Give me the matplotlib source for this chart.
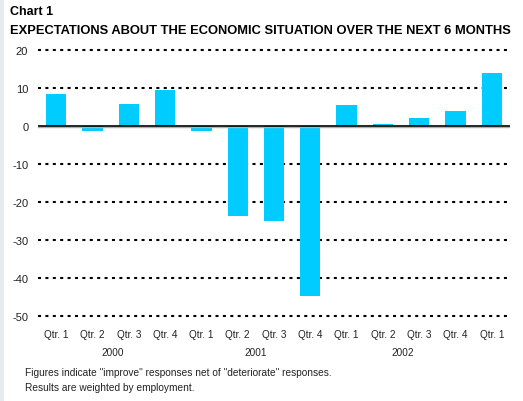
import matplotlib
matplotlib.use("Agg")
import matplotlib.pyplot as plt
import matplotlib.transforms as mtransforms
from matplotlib.patches import Rectangle

plt.rcParams['font.family'] = ['Liberation Sans', 'DejaVu Sans']

quarters = ["Qtr. 1", "Qtr. 2", "Qtr. 3", "Qtr. 4",
            "Qtr. 1", "Qtr. 2", "Qtr. 3", "Qtr. 4",
            "Qtr. 1", "Qtr. 2", "Qtr. 3", "Qtr. 4", "Qtr. 1"]
values = [8.5, -1.4, 5.9, 9.6, -1.4, -23.6, -24.9, -44.7, 5.6, 0.6, 2.2, 4.0, 14.1]
years = ["2000", "2001", "2002"]
year_pos = [1.55, 5.5, 9.55]
yticks = [20, 10, 0, -10, -20, -30, -40, -50]

W, H = 523, 402
fig = plt.figure(figsize=(W / 100, H / 100), dpi=100)
fig.patches.append(Rectangle((0, 0), 4 / W, 1, transform=fig.transFigure,
                             facecolor="#e6eaf1", edgecolor="none", zorder=0))

def figy(px):
    return 1 - px / H

left, right = 38 / W, 510 / W
top_px, bot_px = 51.3, 316.7
ax = fig.add_axes([left, 1 - bot_px / H, right - left, (bot_px - top_px) / H])
ax.set_xlim(-0.5, len(values) - 0.5)
ax.set_ylim(-50, 20)
ax.patch.set_alpha(0)
for s in ax.spines.values():
    s.set_visible(False)

for y in yticks:
    if y == 0:
        continue
    ax.axhline(y, color="black", lw=1.5, linestyle=(0, (1.45, 2.1)),
               dash_capstyle="butt", clip_on=False, zorder=1)

ax.bar(range(len(values)), values, width=0.56, color="#00ccff", zorder=2)
ax.axhline(-0.3, color="#b0b0b0", lw=1.0, zorder=3)
ax.axhline(0, color="black", lw=1.2, zorder=4)

ax.set_yticks(yticks)
ax.set_yticklabels([str(v) for v in yticks], fontsize=8, color="#222222")
ax.tick_params(axis="y", length=0, pad=7)
ax.set_xticks(range(len(values)))
ax.set_xticklabels(quarters, fontsize=7.2, color="#222222")
ax.tick_params(axis="x", length=0, pad=9.5)

blend = mtransforms.blended_transform_factory(ax.transData, fig.transFigure)
for yr, xp in zip(years, year_pos):
    ax.text(xp, figy(353), yr, transform=blend, fontsize=7.2,
            ha="center", va="center", color="#222222")

fig.text(10 / W, figy(12), "Chart 1", fontsize=9, fontweight="bold", va="center", ha="left")
fig.text(10 / W, figy(30.5), "EXPECTATIONS ABOUT THE ECONOMIC SITUATION OVER THE NEXT 6 MONTHS",
         fontsize=9.25, fontweight="bold", va="center", ha="left")
fig.text(25 / W, figy(373), 'Figures indicate "improve" responses net of "deteriorate" responses.',
         fontsize=7.3, va="center", ha="left", color="#222222")
fig.text(25 / W, figy(388), "Results are weighted by employment.",
         fontsize=7.3, va="center", ha="left", color="#222222")

fig.savefig("out.png", dpi=100)
